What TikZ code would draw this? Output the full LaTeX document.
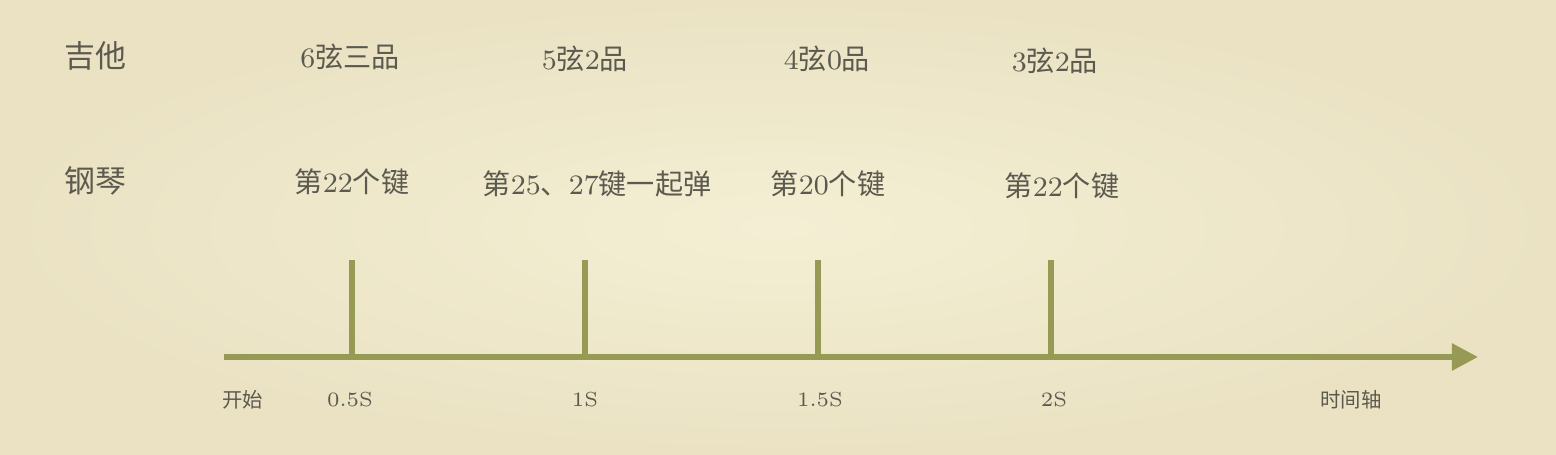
\documentclass[tikz,border=0pt]{standalone}
\usepackage{fontspec}
\usepackage{xcolor}
\usepackage{tikz}
\usetikzlibrary{arrows.meta, positioning}
\newfontfamily\cjk{Noto Sans CJK SC}
\newcommand{\zh}[1]{{\cjk #1}}
\definecolor{paper}{HTML}{F4EFD4}
\definecolor{paperedge}{HTML}{EAE2C3}
\definecolor{ink}{HTML}{5C5A4F}
\definecolor{olive}{HTML}{979A55}
\tikzstyle{rowlabel} = [text=ink, inner sep=0pt, font=\fontsize{8.8pt}{10pt}\selectfont]
\tikzstyle{event} = [text=ink, inner sep=0pt, font=\fontsize{8pt}{9pt}\selectfont]
\tikzstyle{timelabel} = [text=ink, inner sep=0pt, font=\fontsize{5.8pt}{7pt}\selectfont]
\tikzstyle{axis} = [draw=olive, line width=1.6pt, -{Triangle[length=0.26cm,width=0.26cm]}]
\tikzstyle{beat} = [draw=olive, line width=1.6pt]

\begin{document}
\begin{tikzpicture}[x=0.01cm, y=-0.01cm]

	% paper background
	\shade[inner color=paper, outer color=paperedge] (0,0) rectangle (1556,454);
	\useasboundingbox (0,0) rectangle (1556,454);

	% rows
	\node (guitar) [rowlabel] at (95,56) {\zh{吉他}};
	\node (piano) [rowlabel] at (95,181) {\zh{钢琴}};

	\node (g1) [event] at (350,57) {6\zh{弦三品}};
	\node (g2) [event] at (585,59) {5\zh{弦}2\zh{品}};
	\node (g3) [event] at (827,59) {4\zh{弦}0\zh{品}};
	\node (g4) [event] at (1055,61) {3\zh{弦}2\zh{品}};

	\node (p1) [event] at (352,182) {\zh{第}22\zh{个键}};
	\node (p2) [event] at (597,184) {\zh{第}25\zh{、}27\zh{键一起弹}};
	\node (p3) [event] at (828,184) {\zh{第}20\zh{个键}};
	\node (p4) [event] at (1062,186) {\zh{第}22\zh{个键}};

	% time axis
	\coordinate (start) at (224,357);
	\coordinate (end) at (1478,357);
	\draw [axis] (start) -- (end);

	\coordinate (b1) at (352,260);
	\coordinate (b2) at (585,260);
	\coordinate (b3) at (818,260);
	\coordinate (b4) at (1051,260);
	\foreach \b in {b1,b2,b3,b4}
		\draw [beat] (\b) -- (\b |- start);

	\node (t0) [timelabel] at (243,400) {\zh{开始}};
	\node (t1) [timelabel] at (350,400) {0.5S};
	\node (t2) [timelabel] at (585,400) {1S};
	\node (t3) [timelabel] at (820,400) {1.5S};
	\node (t4) [timelabel] at (1054,400) {2S};
	\node (tend) [timelabel] at (1351,400) {\zh{时间轴}};

\end{tikzpicture}
\end{document}
